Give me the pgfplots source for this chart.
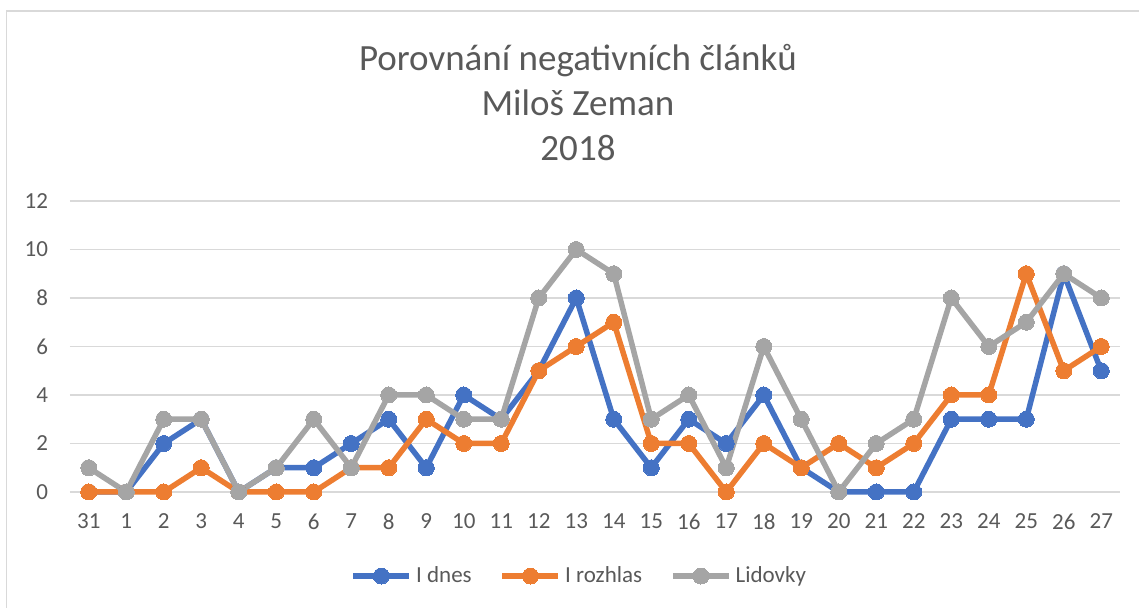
\documentclass[border=0pt]{standalone}
\usepackage{fontspec}
\setmainfont{Carlito}
\usepackage{pgfplots}
\pgfplotsset{compat=1.18}
\usepackage{pgfplotstable}

\definecolor{cblue}{HTML}{4472C4}
\definecolor{corange}{HTML}{ED7D31}
\definecolor{cgray}{HTML}{A5A5A5}
\definecolor{ctext}{HTML}{595959}
\definecolor{cgrid}{HTML}{D9D9D9}

% day index, I dnes, I rozhlas, Lidovky
\pgfplotstableread{
x idnes rozhlas lidovky
0  0 0 1
1  0 0 0
2  2 0 3
3  3 1 3
4  0 0 0
5  1 0 1
6  1 0 3
7  2 1 1
8  3 1 4
9  1 3 4
10 4 2 3
11 3 2 3
12 5 5 8
13 8 6 10
14 3 7 9
15 1 2 3
16 3 2 4
17 2 0 1
18 4 2 6
19 1 1 3
20 0 2 0
21 0 1 2
22 0 2 3
23 3 4 8
24 3 4 6
25 3 9 7
26 9 5 9
27 5 6 8
}\data

\begin{document}
\begin{tikzpicture}
% whole picture: 1139 x 608 px at 0.5pt per px, plot area corner at (0,0)
\path[use as bounding box] (-35pt,-58pt) rectangle (534.5pt,246pt);
\draw[cgrid, line width=0.8pt] (-31.75pt,-58pt) -- (-31.75pt,240.5pt) -- (534.5pt,240.5pt);

\begin{axis}[
    at={(0,0)}, anchor=south west,
    scale only axis,
    width=525pt, height=145.5pt,
    xmin=-0.5, xmax=27.5,
    ymin=0, ymax=12,
    ytick={0,2,...,12},
    xtick={0,...,27},
    xticklabels={31,1,2,3,4,5,6,7,8,9,10,11,12,13,14,15,16,17,18,19,20,21,22,23,24,25,26,27},
    axis line style={draw=none},
    tick style={draw=none},
    ymajorgrids,
    grid style={cgrid, line width=0.8pt},
    clip=false,
    font=\fontsize{11.5}{13}\selectfont,
    ticklabel style={text=ctext},
    /pgf/number format/assume math mode=true,
    yticklabel style={anchor=east, xshift=-7.5pt},
    xticklabel style={anchor=north, yshift=-7.5pt},
    title={Porovnání negativních článků\\Miloš Zeman\\2018},
    title style={at={(axis description cs:0.4838,1.500)}, anchor=north,
        align=center, inner sep=0pt, text=ctext,
        font=\fontsize{18.5}{22.5}\selectfont},
    legend style={at={(axis description cs:0.486,-0.2887)}, anchor=center,
        draw=none, fill=none, text=ctext, legend columns=3,
        font=\fontsize{11.5}{13}\selectfont,
        /tikz/every even column/.append style={column sep=12pt}},
    legend image code/.code={%
        \draw[mark repeat=2, mark phase=2] plot coordinates {(0pt,0pt) (14pt,0pt) (28pt,0pt)};},
    every axis plot/.append style={line width=2.75pt, mark=*, mark size=4pt,
        mark options={solid, line width=0pt}},
]
\addplot[color=cblue] table[x=x, y=idnes] {\data};
\addlegendentry{I dnes}
\addplot[color=corange] table[x=x, y=rozhlas] {\data};
\addlegendentry{I rozhlas}
\addplot[color=cgray] table[x=x, y=lidovky] {\data};
\addlegendentry{Lidovky}
\end{axis}
\end{tikzpicture}
\end{document}
